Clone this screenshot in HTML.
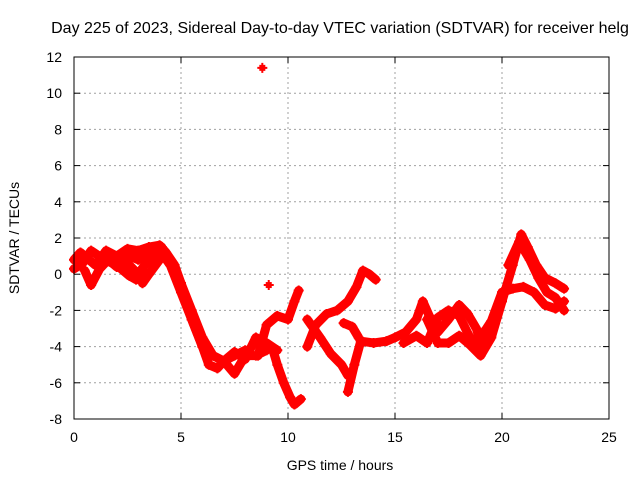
<!DOCTYPE html>
<html><head><meta charset="utf-8"><style>
body{margin:0;background:#fff}
svg{display:block;font-family:"Liberation Sans",sans-serif}
</style></head><body>
<svg id="chart" width="640" height="480">
<rect width="640" height="480" fill="#fff"/>
<text x="340" y="33" font-size="16" text-anchor="middle">Day 225 of 2023, Sidereal Day-to-day VTEC variation (SDTVAR) for receiver helg</text>
<g id="grid"></g>
<g id="ticks"></g>
<g id="marks"></g>
<rect x="74" y="57" width="535" height="362" fill="none" stroke="#000" stroke-width="1"/>
<text x="340" y="470" font-size="14" text-anchor="middle">GPS time / hours</text>
<text transform="translate(19,238) rotate(-90)" font-size="14" text-anchor="middle">SDTVAR / TECUs</text>
</svg>
<script>
const xTicks=[0,5,10,15,20,25];
const yTicks=[-8,-6,-4,-2,0,2,4,6,8,10,12];
const trackA1T=[0,0.3,0.6,1,1.5,2,2.5,3,3.5,4,4.3,4.7,5,5.5,6,6.5,7,7.5,8];
const trackA1V=[0.8,1.2,0.9,0.5,1.3,1.0,1.4,1.3,1.5,1.6,1.2,0.5,-0.5,-2,-3.5,-4.5,-4.8,-4.5,-4.2];
const trackA2T=[0.5,0.8,1.2,1.6,2,2.5,3,3.3,3.6,4,4.5,5,5.5,6,6.3,6.7,7,7.5,8,8.5,9];
const trackA2V=[0.2,-0.6,0.3,0.8,0.4,0.6,0.0,0.5,0.8,1.2,0.8,-0.5,-2.5,-4,-5,-5.2,-4.8,-5.5,-4.5,-4.5,-4.2];
const trackA3T=[3.2,3.5,4,4.2,4.5,5,5.5,6,6.5,7,7.5,8,8.5,9,9.5];
const trackA3V=[-0.5,0,0.8,1.0,0.5,-1,-2.5,-4,-4.5,-4.8,-4.3,-4.7,-3.5,-3.8,-4.2];
const trackA4T=[1.8,2.2,2.6,2.9,3.2];
const trackA4V=[0.8,0.3,-0.1,-0.3,0.3];
const trackA5T=[0,0.4,0.8,1.3,1.8,2.4,3.0,3.6,4.1];
const trackA5V=[0.3,0.6,1.3,0.9,0.6,1.1,0.8,1.2,1.5];
const trackBT=[8.6,9,9.5,10,10.3,10.5];
const trackBV=[-4.5,-2.8,-2.3,-2.5,-1.5,-0.9];
const trackCT=[9.3,9.5,9.8,10.1,10.3,10.6];
const trackCV=[-4.2,-5,-6,-6.8,-7.2,-6.9];
const trackDT=[10.9,11.3,11.8,12.3,12.8,13.2,13.5,13.8,14.1];
const trackDV=[-4.0,-2.8,-2.2,-2.0,-1.5,-0.7,0.2,0.0,-0.3];
const trackET=[10.9,11.5,12,12.5,12.8];
const trackEV=[-2.5,-3.5,-4.4,-5,-5.6];
const trackE2T=[12.8,13.1,13.4,14,14.6,15];
const trackE2V=[-6.5,-5,-3.7,-3.8,-3.7,-3.5];
const trackFT=[12.6,13,13.3];
const trackFV=[-2.7,-2.9,-3.5];
const trackGT=[15,15.5,16,16.3,16.6,17,17.5,18,18.4,18.8,19];
const trackGV=[-3.5,-3.2,-2.5,-1.5,-2.3,-3.2,-2.5,-1.7,-2.2,-3.0,-3.8];
const trackHT=[15.4,16,16.5,17,17.5,18,18.5,19,19.3];
const trackHV=[-3.8,-3.4,-3.8,-2.4,-2.0,-2.3,-3.5,-4.0,-3.2];
const trackIT=[16.5,17,17.5,18,18.5,19,19.5,20,20.5,20.9,21.2,21.6,22,22.5,22.9];
const trackIV=[-2.5,-3.8,-3.8,-3.4,-3.9,-4.5,-3.5,-1.5,0.5,2.2,1.5,0.5,-0.2,-0.5,-0.8];
const trackJT=[19,19.5,20,20.5,21,21.5,22,22.5,22.9];
const trackJV=[-3.5,-2.6,-1.0,-0.8,-0.7,-1.0,-1.7,-1.9,-1.5];
const trackKT=[20.3,20.8,21.3,21.7,22.1,22.5,22.9];
const trackKV=[0.5,1.8,0.8,-0.2,-1.0,-1.3,-2.0];
const outlierT=[8.8,9.1];
const outlierV=[11.4,-0.6];
const tracks=[[trackA1T,trackA1V],[trackA2T,trackA2V],[trackA3T,trackA3V],[trackA4T,trackA4V],[trackA5T,trackA5V],[trackBT,trackBV],[trackCT,trackCV],[trackDT,trackDV],[trackET,trackEV],[trackE2T,trackE2V],[trackFT,trackFV],[trackGT,trackGV],[trackHT,trackHV],[trackIT,trackIV],[trackJT,trackJV],[trackKT,trackKV]];
const NS='http://www.w3.org/2000/svg';
const X0=74,X1=609,Y0=419,Y1=57;
function xs(t){return X0+(t-0)/(25-0)*(X1-X0);}
function ys(v){return Y0-(v-(-8))/(12-(-8))*(Y0-Y1);}
function mk(tag,attrs,parent){const e=document.createElementNS(NS,tag);for(const k in attrs)e.setAttribute(k,attrs[k]);parent.appendChild(e);return e;}
const grid=document.getElementById('grid'),ticks=document.getElementById('ticks'),marks=document.getElementById('marks');
xTicks.forEach(t=>{const x=xs(t);
 if(t>0&&t<25){const l=mk('line',{x1:x,x2:x,y1:Y1,y2:Y0,stroke:'#a0a0a0','stroke-dasharray':'2,3'},grid);
 
 }
 mk('line',{x1:x,x2:x,y1:Y0,y2:Y0-6,stroke:'#000'},grid);mk('line',{x1:x,x2:x,y1:Y1,y2:Y1+6,stroke:'#000'},grid);
 const tx=mk('text',{x:x,y:Y0+23,'font-size':14,'text-anchor':'middle'},ticks);tx.textContent=t;
 
 });
yTicks.forEach(v=>{const y=ys(v);
 if(v>-8&&v<12){const l=mk('line',{x1:X0,x2:X1,y1:y,y2:y,stroke:'#a0a0a0','stroke-dasharray':'2,3'},grid);
 
 }
 mk('line',{x1:X0,x2:X0+6,y1:y,y2:y,stroke:'#000'},grid);mk('line',{x1:X1,x2:X1-6,y1:y,y2:y,stroke:'#000'},grid);
 const tx=mk('text',{x:X0-12,y:y+5,'font-size':14,'text-anchor':'end'},ticks);tx.textContent=v;
 
 });
function plus(x,y){const p=mk('path',{d:`M${x-5},${y}H${x+5}M${x},${y-5}V${y+5}`,stroke:'#f00','stroke-width':2},marks);
 
 }
tracks.forEach(([T,V])=>{
 const pts=T.map((t,i)=>xs(t)+','+ys(V[i])).join(' ');
 const pl=mk('polyline',{points:pts,fill:'none',stroke:'#f00','stroke-width':9,'stroke-linejoin':'round','stroke-linecap':'round'},marks);
 
 
 T.forEach((t,i)=>plus(xs(t),ys(V[i])));
});
outlierT.forEach((t,i)=>{plus(xs(t),ys(outlierV[i]));mk('rect',{x:xs(t)-3,y:ys(outlierV[i])-3,width:6,height:6,fill:'#f00'},marks);});
</script>
</body></html>
